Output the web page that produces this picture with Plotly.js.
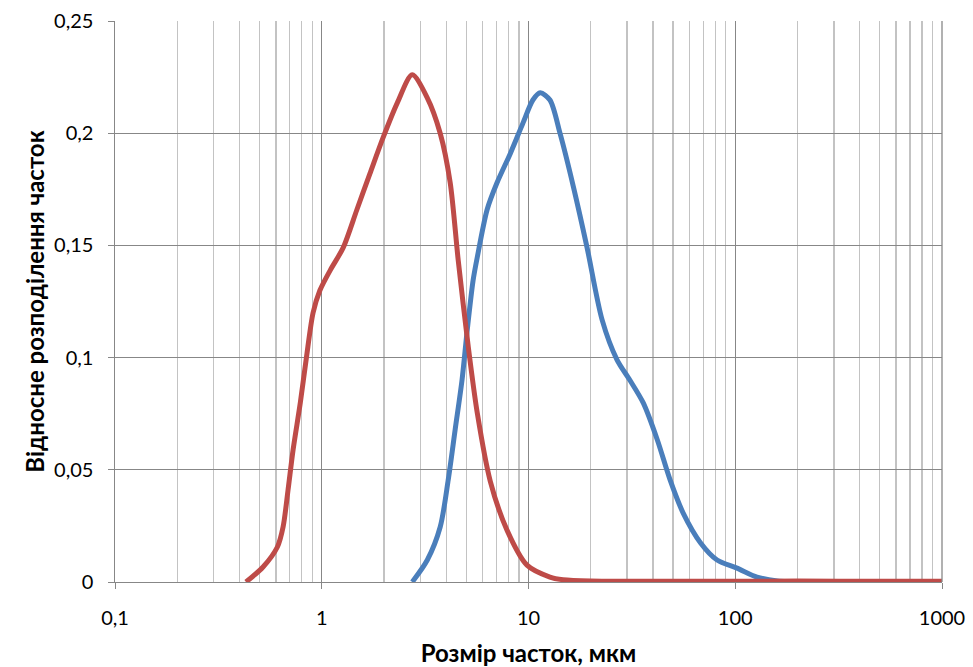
<!DOCTYPE html>
<html>
<head>
<meta charset="utf-8">
<script src="https://cdn.plot.ly/plotly-3.0.1.min.js"></script>
<style>html,body{margin:0;padding:0;background:#fff;}#chart{width:973px;height:667px;}</style>
</head>
<body>
<div id="chart"></div>
<script>
// Blue series (coarser fraction)
var blueX = [2.74, 3.24, 3.74, 4.09, 4.42, 4.77, 5.05, 5.40, 5.66, 6.31, 7.05, 8.17, 9.4, 10.5, 11.4, 12.7, 14.2, 16.5, 19.2, 22.7, 26.8, 30.9, 35.9, 42, 48.4, 56, 68, 81.7, 102, 127.5, 160, 250, 500, 1000];
var blueY = [0, 0.0098, 0.0245, 0.0455, 0.068, 0.09, 0.112, 0.1346, 0.145, 0.166, 0.178, 0.191, 0.2045, 0.2148, 0.218, 0.2148, 0.200, 0.176, 0.149, 0.1168, 0.099, 0.090, 0.0798, 0.0633, 0.0455, 0.0307, 0.0174, 0.0098, 0.0062, 0.0022, 0.0005, 0.0002, 0.0001, 0];
// Red series (finer fraction)
var redX = [0.43, 0.52, 0.61, 0.65, 0.687, 0.727, 0.788, 0.843, 0.908, 0.98, 1.10, 1.27, 1.48, 1.71, 1.98, 2.32, 2.74, 3.23, 3.74, 4.18, 4.57, 5.11, 5.66, 6.53, 7.88, 9.83, 12.7, 14.7, 20, 50, 100, 200, 500, 1000];
var redY = [0, 0.0067, 0.0156, 0.0245, 0.041, 0.059, 0.080, 0.100, 0.12, 0.130, 0.139, 0.149, 0.166, 0.182, 0.198, 0.2135, 0.226, 0.216, 0.200, 0.178, 0.1435, 0.105, 0.075, 0.045, 0.023, 0.0075, 0.0022, 0.001, 0.0004, 0.0003, 0.0003, 0.0004, 0.0003, 0.0003];
// Axis labels
var xTickVals = [0.1, 1, 10, 100, 1000];
var xTickText = ['0,1', '1', '10', '100', '1000'];
var xTitle = 'Розмір часток, мкм';
var yTitle = 'Відносне розподілення часток';

var minorVals = [];
for (var d = 0.1; d < 1000; d *= 10) {
  for (var k = 2; k <= 9; k++) minorVals.push(+(d * k).toPrecision(3));
}

var font = 'Lato, "Open Sans", "Liberation Sans", sans-serif';

var traces = [
  {x: blueX, y: blueY, type: 'scatter', mode: 'lines', line: {color: '#4A7EBB', width: 5, shape: 'spline', smoothing: 0.8}, hoverinfo: 'skip'},
  {x: redX, y: redY, type: 'scatter', mode: 'lines', line: {color: '#BE4B48', width: 5, shape: 'spline', smoothing: 0.8}, hoverinfo: 'skip'}
];

var layout = {
  width: 973, height: 667,
  margin: {l: 115, r: 31, t: 21, b: 85},
  paper_bgcolor: '#fff', plot_bgcolor: '#fff',
  showlegend: false,
  separators: ', ',
  font: {family: font, size: 20, color: '#000'},
  xaxis: {
    type: 'log', range: [-1, 3],
    tickmode: 'array', tickvals: xTickVals, ticktext: xTickText,
    showgrid: true, gridcolor: '#878787', gridwidth: 1.3,
    showline: true, linecolor: '#878787', linewidth: 1.3,
    ticks: 'outside', ticklen: 6, tickcolor: '#878787',
    ticklabelstandoff: 12,
    minor: {tickmode: 'array', tickvals: minorVals, showgrid: true, gridcolor: '#c3c3c3', gridwidth: 1.3, ticks: ''},
    zeroline: false,
    tickfont: {family: font, size: 20},
    title: {text: xTitle, font: {family: font, size: 24, weight: 'bold'}, standoff: 18}
  },
  yaxis: {
    range: [0, 0.25], dtick: 0.05, tick0: 0,
    showgrid: true, gridcolor: '#878787', gridwidth: 1.3,
    showline: true, linecolor: '#878787', linewidth: 1.3,
    ticks: 'outside', ticklen: 6, tickcolor: '#878787',
    ticksuffix: '\u00a0\u00a0',
    zeroline: false,
    tickfont: {family: font, size: 20},
    title: {text: yTitle, font: {family: font, size: 24, weight: 'bold'}, standoff: 2}
  },
  shapes: [
    {type: 'line', xref: 'paper', yref: 'paper', x0: 1, x1: 1, y0: 0, y1: 1, line: {color: '#878787', width: 1.3}}
  ]
};

Plotly.newPlot('chart', traces, layout, {staticPlot: true, displayModeBar: false});
</script>
</body>
</html>
